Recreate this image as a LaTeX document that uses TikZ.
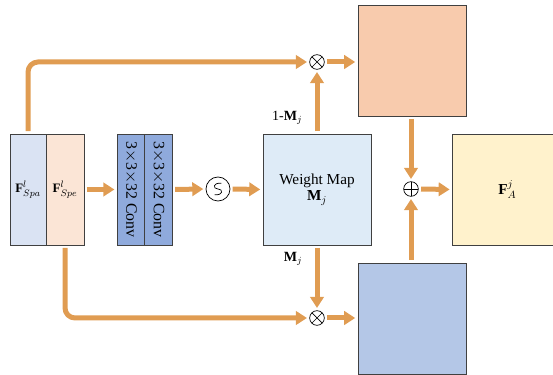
\documentclass[tikz,border=0pt]{standalone}
\usepackage{fontspec}
\setmainfont{Liberation Serif}
\usepackage{amsmath}
\usetikzlibrary{arrows.meta,positioning}
\definecolor{flowor}{HTML}{E09C52}
\definecolor{spablue}{HTML}{DAE3F3}
\definecolor{spepeach}{HTML}{FBE5D6}
\definecolor{convblue}{HTML}{8FAADC}
\definecolor{mapblue}{HTML}{DEEBF7}
\definecolor{toppeach}{HTML}{F8CBAD}
\definecolor{botblue}{HTML}{B4C7E7}
\definecolor{outyellow}{HTML}{FFF2CC}

\begin{document}
\begin{tikzpicture}[
    x=0.03cm, y=-0.03cm,
    box/.style={draw=black!75, line width=0.7pt, inner sep=0pt,
                minimum width=3.24cm, minimum height=3.33cm,
                font=\fontsize{13}{15}\selectfont, align=center},
    feat/.style={box, minimum width=1.1cm, font=\fontsize{11}{13}\selectfont},
    convbox/.style={box, minimum width=0.83cm, fill=convblue},
    opcirc/.style={circle, draw=black, line width=0.6pt, inner sep=0pt,
                   minimum size=0.44cm},
    mulop/.style={opcirc, path picture={
        \draw[line width=0.6pt] (path picture bounding box.north west)
            -- (path picture bounding box.south east)
            (path picture bounding box.north east)
            -- (path picture bounding box.south west);}},
    addop/.style={opcirc, path picture={
        \draw[line width=0.6pt] (path picture bounding box.north)
            -- (path picture bounding box.south)
            (path picture bounding box.east)
            -- (path picture bounding box.west);}},
    flow/.style={-{Triangle[length=0.33cm,width=0.4cm]}, line width=0.15cm,
                 flowor, shorten <=2pt, shorten >=2pt},
]
\useasboundingbox (0,0) rectangle (553,375);

% Input features
\node[feat, fill=spablue, minimum width=1.08cm] (spa) at (28,189.5) {$\mathbf{F}^{l}_{Spa}$};
\node[feat, fill=spepeach, minimum width=1.14cm] (spe) at (65,189.5) {$\mathbf{F}^{l}_{Spe}$};

% Convolutions
\node[convbox] (conv1) at (131,189.5) {};
\node[convbox] (conv2) at (158.5,189.5) {};
\node[rotate=-90, font=\fontsize{13.5}{15}\selectfont] (conv1lab) at (conv1) {3$\times$3$\times$32 Conv};
\node[rotate=-90, font=\fontsize{13.5}{15}\selectfont] (conv2lab) at (conv2) {3$\times$3$\times$32 Conv};

% Sigmoid
\node[opcirc, minimum size=0.72cm] (sig) at (218,189) {};
\draw[line width=0.6pt] ([shift={(0.1cm,0.17cm)}]sig.center)
  .. controls ([shift={(-0.16cm,0.2cm)}]sig.center) and ([shift={(-0.16cm,0cm)}]sig.center) .. (sig.center)
  .. controls ([shift={(0.16cm,0cm)}]sig.center) and ([shift={(0.16cm,-0.2cm)}]sig.center) .. ([shift={(-0.1cm,-0.17cm)}]sig.center);

% Weight map
\node[box, fill=mapblue] (wmap) at (317,189.5) {Weight Map\\[-1pt]$\mathbf{M}_{j}$};

% Operators
\node[mulop] (mult) at (317,62) {};
\node[mulop] (mulb) at (317,318) {};
\node[addop] (add) at (411,189) {};

% Weighted features
\node[box, fill=toppeach] (ftop) at (412,60.5) {};
\node[box, fill=botblue] (fbot) at (412,318.5) {};
\node[box, fill=outyellow, minimum width=3.3cm, anchor=west] (fout) at (452,189.5) {$\mathbf{F}^{j}_{A}$};

% Arrows
\draw[flow, rounded corners=0.3cm] (spa.north) -- (spa.north |- mult) -- (mult.west);
\draw[flow, rounded corners=0.3cm] (spe.south) -- (spe.south |- mulb) -- (mulb.west);
\draw[flow] (spe.east |- conv1.west) -- (conv1.west);
\draw[flow] (conv2.east) -- (sig.west);
\draw[flow] (sig.east) -- (wmap.west);
\draw[flow] (wmap.north) -- node[pos=0.25, left=0.25cm, black,
  font=\fontsize{12}{14}\selectfont] {1-$\mathbf{M}_{j}$} (mult.south);
\draw[flow] (wmap.south) -- node[pos=0.2, left=0.25cm, black,
  font=\fontsize{12}{14}\selectfont] {$\mathbf{M}_{j}$} (mulb.north);
\draw[flow] (mult.east) -- (mult.east -| ftop.west);
\draw[flow] (mulb.east) -- (mulb.east -| fbot.west);
\draw[flow] (ftop.south -| add) -- (add.north);
\draw[flow] (fbot.north -| add) -- (add.south);
\draw[flow] (add.east) -- (fout.west);
\end{tikzpicture}
\end{document}
